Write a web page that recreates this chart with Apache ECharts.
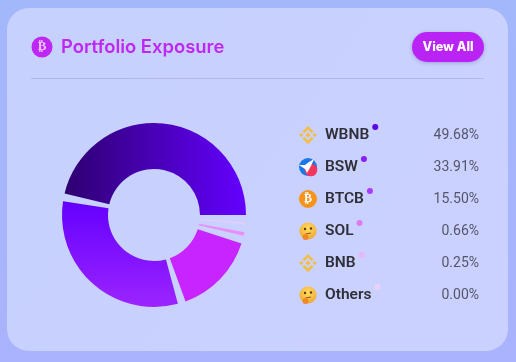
<!DOCTYPE html>
<html>
<head>
<meta charset="utf-8">
<script src="https://cdn.jsdelivr.net/npm/echarts@6/dist/echarts.min.js"></script>
<style>
  html, body { margin: 0; padding: 0; background: linear-gradient(180deg, #a3b7fb, #aab3fd); }
  #chart { width: 516px; height: 362px; }
</style>
</head>
<body>
<div id="chart"></div>
<script>
var names = ["WBNB", "BSW", "BTCB", "SOL", "BNB", "Others"];
var shares = [49.68, 33.91, 15.5, 0.66, 0.25, 0];
var shareLabels = ["49.68%", "33.91%", "15.50%", "0.66%", "0.25%", "0.00%"];
var icons = ["bnb", "bsw", "btc", "think", "bnb", "think"];
var dotColors = ["#5c00e6", "#8a1cff", "#a93cff", "#dd7bf5", "#e8b5f8", "#ecd0f5"];

var NAME_FONT = "600 15.5px Roboto";
var GAP_SHARE = 1.49; // empty slice between two tokens, same units as shares
var chart = echarts.init(document.getElementById("chart"));
var measure = document.createElement("canvas").getContext("2d");

function linear(x, y, x2, y2, from, to) {
  return {
    type: "linear", x: x, y: y, x2: x2, y2: y2,
    colorStops: [{ offset: 0, color: from }, { offset: 1, color: to }],
  };
}

var sliceColors = [
  linear(0, 0, 1, 0, "#2e0070", "#6400ff"),
  linear(0, 0, 0, 1, "#6400ff", "#9c24ff"),
  "#c724ff",
  "#ea8dfb",
  "#f7c8fc",
  "#f8def9",
];

// small token icons, drawn around (cx, cy)
function diamond(cx, cy, r, fill) {
  return {
    type: "polygon",
    shape: { points: [[cx, cy - r], [cx + r, cy], [cx, cy + r], [cx - r, cy]] },
    style: { fill: fill },
  };
}

function chevron(cx, cy, s, fill) {
  var pts = [[cx, cy + s * 9], [cx + 5.5, cy + s * 3.5], [cx + 3.7, cy + s * 1.9], [cx, cy + s * 5.5], [cx - 3.7, cy + s * 1.9], [cx - 5.5, cy + s * 3.5]];
  return { type: "polygon", shape: { points: pts }, style: { fill: fill } };
}

function iconParts(kind, cx, cy) {
  if (kind === "bnb") {
    return [
      diamond(cx, cy, 2.6, "#f5bd3a"),
      diamond(cx - 6.8, cy, 2.1, "#f5bd3a"),
      diamond(cx + 6.8, cy, 2.1, "#f5bd3a"),
      chevron(cx, cy, -1, "#f5bd3a"),
      chevron(cx, cy, 1, "#f5bd3a"),
    ];
  }
  if (kind === "bsw") {
    return [
      { type: "circle", shape: { cx: cx, cy: cy, r: 9 }, style: { fill: "#1b78e8" } },
      { type: "circle", shape: { cx: cx + 3, cy: cy + 3, r: 6.3 }, style: { fill: "#f2365f" } },
      { type: "polygon", shape: { points: [[cx - 9, cy - 2], [cx - 3, cy - 2], [cx + 1, cy - 5], [cx + 6, cy - 8], [cx + 3, cy - 1], [cx - 1, cy + 6], [cx - 3, cy + 2]] }, style: { fill: "#ffffff" } },
    ];
  }
  if (kind === "btc") {
    return [
      { type: "circle", shape: { cx: cx, cy: cy, r: 9 }, style: { fill: "#f7931a" } },
      { type: "text", style: { x: cx, y: cy, text: "₿", fill: "#fff", font: "bold 12px 'DejaVu Sans'", align: "center", verticalAlign: "middle" } },
    ];
  }
  return [
    { type: "circle", shape: { cx: cx, cy: cy, r: 8.5 }, style: { fill: { type: "radial", x: 0.5, y: 0.35, r: 0.7, colorStops: [{ offset: 0, color: "#ffdf60" }, { offset: 1, color: "#f2a22c" }] } } },
    { type: "circle", shape: { cx: cx - 3, cy: cy - 2, r: 1.2 }, style: { fill: "#5b3a1a" } },
    { type: "circle", shape: { cx: cx + 3, cy: cy - 2.5, r: 1.2 }, style: { fill: "#5b3a1a" } },
    { type: "line", shape: { x1: cx - 2.5, y1: cy + 3, x2: cx + 3, y2: cy + 2 }, style: { stroke: "#8a5a20", lineWidth: 1 } },
    { type: "circle", shape: { cx: cx - 2.5, cy: cy + 6, r: 3 }, style: { fill: "#f08a24" } },
  ];
}

var graphics = [
  { type: "rect", shape: { x: 7, y: 8, width: 501, height: 343, r: 22 }, style: { fill: linear(0, 0, 1, 1, "#c6d1fe", "#cbd1ff") } },
  { type: "circle", shape: { cx: 42, cy: 47, r: 10.5 }, style: { fill: "#bf27f5" } },
  { type: "text", style: { x: 42, y: 47, text: "₿", fill: "#e9c4fc", font: "bold 13px 'DejaVu Sans'", align: "center", verticalAlign: "middle" } },
  { type: "text", style: { x: 61, y: 47, text: "Portfolio Exposure", fill: "#bf27f5", font: "600 18.4px Inter", align: "left", verticalAlign: "middle" } },
  { type: "line", shape: { x1: 31, y1: 78.5, x2: 484, y2: 78.5 }, style: { stroke: "#b2b9e6", lineWidth: 1 } },
  { type: "rect", shape: { x: 412, y: 32, width: 72, height: 30, r: 15 }, style: { fill: "#b924f5", shadowBlur: 4, shadowColor: "rgba(80,60,150,0.35)", shadowOffsetY: 1 } },
  { type: "text", style: { x: 448, y: 47, text: "View All", fill: "#ffffff", font: "800 12.6px Inter", align: "center", verticalAlign: "middle" } },
];

measure.font = NAME_FONT;
names.forEach(function (name, i) {
  var y = 134 + i * 32;
  graphics = graphics.concat(iconParts(icons[i], 308, y + 1));
  graphics.push({ type: "text", style: { x: 325, y: y + 1, text: name, fill: "#2f2f38", font: NAME_FONT, align: "left", verticalAlign: "middle" } });
  graphics.push({ type: "circle", shape: { cx: 325 + measure.measureText(name).width + 6, cy: y - 7, r: 3 }, style: { fill: dotColors[i] } });
  graphics.push({ type: "text", style: { x: 479, y: y + 1, text: shareLabels[i], fill: "#55556a", font: "400 14px Roboto", align: "right", verticalAlign: "middle" } });
});

// tokens with a see-through slice after each one, the last one has none
var pieData = [];
names.forEach(function (name, i) {
  pieData.push({ name: name, value: shares[i], itemStyle: { color: sliceColors[i] } });
  if (i < names.length - 1) {
    pieData.push({ name: "gap" + i, value: GAP_SHARE, itemStyle: { color: "transparent" } });
  }
});

var option = {
  animation: false,
  graphic: graphics.map(function (g) {
    g.silent = true;
    return g;
  }),
  series: [
    {
      type: "pie",
      z: 5,
      center: [154, 215],
      radius: [46, 92],
      startAngle: 0,
      clockwise: false,
      label: { show: false },
      labelLine: { show: false },
      silent: true,
      data: pieData,
    },
  ],
};

chart.setOption(option);
</script>
</body>
</html>
